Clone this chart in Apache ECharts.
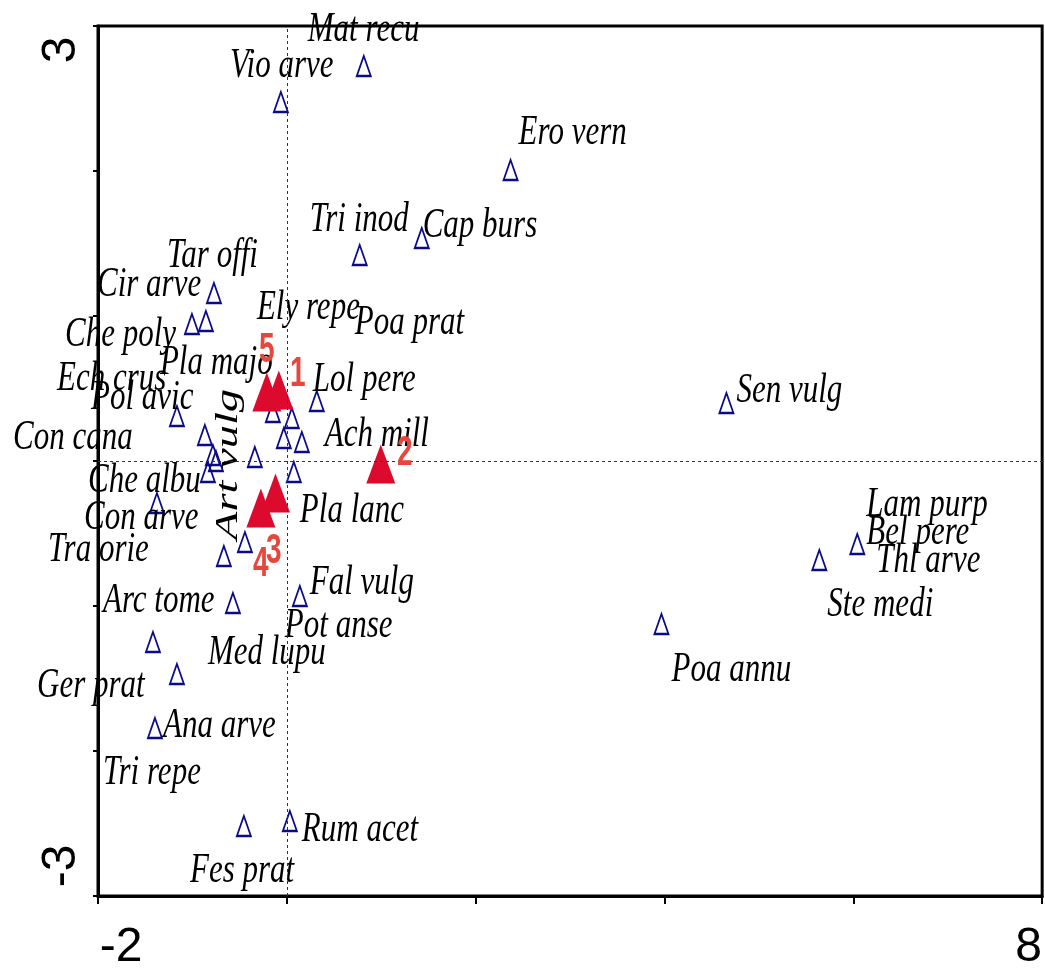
<!DOCTYPE html>
<html>
<head>
<meta charset="utf-8">
<script src="https://cdn.jsdelivr.net/npm/echarts@6/dist/echarts.min.js"></script>
<style>
  html, body { margin: 0; padding: 0; background: #fff; }
  #chart { width: 1045px; height: 973px; }
</style>
</head>
<body>
<div id="chart"></div>
<script>
  // species scores (open triangles)
  const speciesX = [-0.063, 0.815, 2.370, 0.772, 1.429, -0.772, -1.005, -0.857, -1.164, -0.868,
    -0.783, -0.751, -0.836, -1.376, -0.667, -0.444, -0.339, -0.148, 0.053, -0.032,
    0.159, 0.074, 0.317, -0.571, 0.138, -1.418, -1.164, -1.397, -0.455, 0.032,
    4.656, 6.042, 5.640, 3.968]
  const speciesY = [2.476, 2.724, 2.007, 1.421, 1.538, 1.159, 0.945, 0.966, 0.310, 0.179,
    0.041, 0.000, -0.076, -0.290, -0.655, -0.559, 0.028, 0.338, 0.297, 0.159,
    0.131, -0.076, 0.414, -0.979, -0.931, -1.248, -1.469, -1.841, -2.517, -2.483,
    0.400, -0.572, -0.683, -1.124]

  // species names and where their labels sit
  const labelNames = ['Mat recu', 'Vio arve', 'Ero vern', 'Tri inod', 'Cap burs', 'Tar offi',
    'Cir arve', 'Ely repe', 'Poa prat', 'Che poly', 'Pla majo', 'Ech crus', 'Pol avic',
    'Lol pere', 'Con cana', 'Ach mill', 'Che albu', 'Con arve', 'Pla lanc', 'Tra orie',
    'Lam purp', 'Bel pere', 'Thl arve', 'Ste medi', 'Poa annu', 'Sen vulg', 'Arc tome',
    'Fal vulg', 'Pot anse', 'Med lupu', 'Ger prat', 'Ana arve', 'Tri repe', 'Rum acet', 'Fes prat']
  const labelX = [0.222, -0.603, 2.455, 0.243, 1.439, -1.270, -2.011, -0.317, 0.720, -2.349,
    -1.344, -2.434, -2.074, 0.275, -2.899, 0.402, -2.106, -2.148, 0.138, -2.529,
    6.138, 6.138, 6.243, 5.725, 4.074, 4.762, -1.947, 0.243, -0.021, -0.836,
    -2.646, -1.312, -1.947, 0.159, -1.026]
  const labelY = [2.971, 2.723, 2.261, 1.661, 1.619, 1.413, 1.213, 1.054, 0.951, 0.868,
    0.675, 0.564, 0.433, 0.557, 0.157, 0.178, -0.139, -0.394, -0.346, -0.615,
    -0.305, -0.498, -0.691, -0.994, -1.443, 0.482, -0.967, -0.843, -1.139, -1.325,
    -1.553, -1.829, -2.153, -2.546, -2.829]

  // the one label written upright
  const sideName = 'Art vulg'
  const sideX = -0.614
  const sideY = -0.545

  // samples (filled triangles)
  const sampleNames = ['1', '2', '3', '4', '5']
  const sampleX = [-0.085, 0.995, -0.120, -0.275, -0.212]
  const sampleY = [0.490, -0.021, -0.221, -0.324, 0.476]
  const sampleLabelX = [0.116, 1.249, -0.138, -0.275, -0.212]
  const sampleLabelY = [0.600, 0.055, -0.621, -0.710, 0.766]

  const xTickLabels = ['-2', '8']
  const yTickLabels = ['-3', '3']

  let chart = echarts.init(document.getElementById('chart'))

  function zip(a, b) {
    return a.map((v, i) => [v, b[i]])
  }

  function textItem(params, api, names, opt) {
    let p = api.coord([api.value(0), api.value(1)])
    return {
      type: 'text',
      x: p[0],
      y: p[1],
      rotation: opt.rotation || 0,
      scaleX: opt.scaleX || 1,
      scaleY: opt.scaleY || 1,
      style: {
        text: names[params.dataIndex],
        font: opt.font,
        fill: opt.fill,
        align: opt.align,
        verticalAlign: 'middle'
      }
    }
  }

  const tickFont = { fontSize: 48, fontFamily: 'Liberation Sans', color: '#000' }

  let options = {
    animation: false,
    grid: {
      left: 98,
      right: 2,
      top: 26,
      bottom: 77,
      show: true,
      borderColor: '#000',
      borderWidth: 3
    },
    xAxis: {
      type: 'value',
      min: -2,
      max: 8,
      interval: 2,
      splitLine: { show: false },
      axisLine: { onZero: false, lineStyle: { color: '#000', width: 3 } },
      axisTick: { show: true, length: 8, lineStyle: { color: '#000', width: 2 } },
      axisLabel: {
        margin: 28,
        formatter: function (v) {
          if (v === -2) return '{lo|' + xTickLabels[0] + '}'
          if (v === 8) return '{hi|' + xTickLabels[1] + '}'
          return ''
        },
        rich: {
          lo: Object.assign({ padding: [0, 0, 0, 46] }, tickFont),
          hi: Object.assign({ padding: [0, 27, 0, 0] }, tickFont)
        }
      }
    },
    yAxis: {
      type: 'value',
      min: -3,
      max: 3,
      interval: 1,
      splitLine: { show: false },
      axisLine: { onZero: false, lineStyle: { color: '#000', width: 3 } },
      axisTick: { show: true, length: 5, lineStyle: { color: '#000', width: 2 } },
      axisLabel: {
        rotate: 90,
        margin: 12,
        formatter: function (v) {
          if (v === -3) return '{lo|' + yTickLabels[0] + '}'
          if (v === 3) return '{hi|' + yTickLabels[1] + '}'
          return ''
        },
        rich: {
          lo: Object.assign({ padding: [0, 0, 0, 60] }, tickFont),
          hi: Object.assign({ padding: [0, 48, 0, 0] }, tickFont)
        }
      }
    },
    series: [
      {
        type: 'scatter',
        symbol: 'triangle',
        symbolSize: [14, 20],
        itemStyle: { color: 'rgba(255,255,255,0)', borderColor: '#0b0b8a', borderWidth: 2, opacity: 1 },
        data: zip(speciesX, speciesY),
        markLine: {
          silent: true,
          symbol: 'none',
          label: { show: false },
          lineStyle: { color: '#333', width: 1, type: [3, 3] },
          data: [{ xAxis: 0 }, { yAxis: 0 }]
        },
        z: 2
      },
      {
        type: 'custom',
        data: zip(labelX, labelY),
        renderItem: function (params, api) {
          return textItem(params, api, labelNames, {
            font: 'italic 31px "Liberation Serif"', fill: '#000', align: 'left', scaleY: 1.37
          })
        },
        z: 3
      },
      {
        type: 'custom',
        data: [[sideX, sideY]],
        renderItem: function (params, api) {
          return textItem(params, api, [sideName], {
            font: 'italic 31px "Liberation Serif"', fill: '#000', align: 'left',
            rotation: Math.PI / 2, scaleX: 1.5
          })
        },
        z: 3
      },
      {
        type: 'scatter',
        symbol: 'triangle',
        symbolSize: [29, 39],
        itemStyle: { color: '#dc0a2c', opacity: 1 },
        data: zip(sampleX, sampleY),
        z: 4
      },
      {
        type: 'custom',
        data: zip(sampleLabelX, sampleLabelY),
        renderItem: function (params, api) {
          return textItem(params, api, sampleNames, {
            font: 'bold 28px "Liberation Sans"', fill: '#e8463c', align: 'center', scaleY: 1.5
          })
        },
        z: 5
      }
    ]
  }

  chart.setOption(options, true)
</script>
</body>
</html>
